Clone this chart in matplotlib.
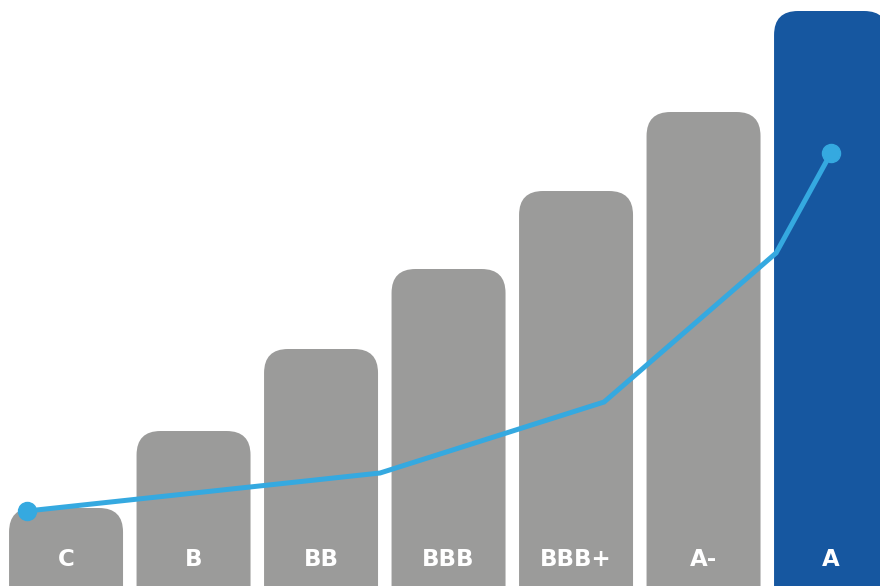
import matplotlib
matplotlib.use("Agg")
import matplotlib.pyplot as plt
from matplotlib.patches import FancyBboxPatch

# ---------------- data ---------------- #
ratings = ["C", "B", "BB", "BBB", "BBB+", "A-", "A"]
bar_heights = [78, 155, 237, 317, 395, 474, 575]
line_x = [-0.306, 2.463, 4.22, 5.569, 6.0]
line_y = [75, 113, 184, 333, 433]

gray = "#9b9b9a"
blue = "#1657a0"
light_blue = "#35a9e0"

fig = plt.figure(figsize=(8.8, 5.86), dpi=100)
ax = fig.add_axes([0, 0, 1, 1])
ax.set_xlim(-0.518, 6.384)
ax.set_ylim(0, 586)
ax.axis("off")

# units per pixel -> aspect for rounded corners
x_per_px = (6.384 + 0.518) / 880
y_per_px = 586 / 586
aspect = y_per_px / x_per_px

width = 0.894
radius = 24 * x_per_px
for i, (name, h) in enumerate(zip(ratings, bar_heights)):
    color = blue if name == "A" else gray
    patch = FancyBboxPatch((i - width / 2, -60), width, h + 60,
                           boxstyle=f"round,pad=0,rounding_size={radius}",
                           mutation_aspect=aspect, fc=color, ec="none", zorder=1)
    ax.add_patch(patch)
    ax.text(i, 27, name, color="white", fontsize=16.5, fontweight="bold",
            ha="center", va="center", family="DejaVu Sans", zorder=3)

ax.plot(line_x, line_y, color=light_blue, lw=3.6, solid_capstyle="round",
        solid_joinstyle="miter", zorder=2)
ax.plot([line_x[0], line_x[-1]], [line_y[0], line_y[-1]], "o", color=light_blue,
        markersize=13, zorder=2)

fig.savefig("out.png", dpi=100)
